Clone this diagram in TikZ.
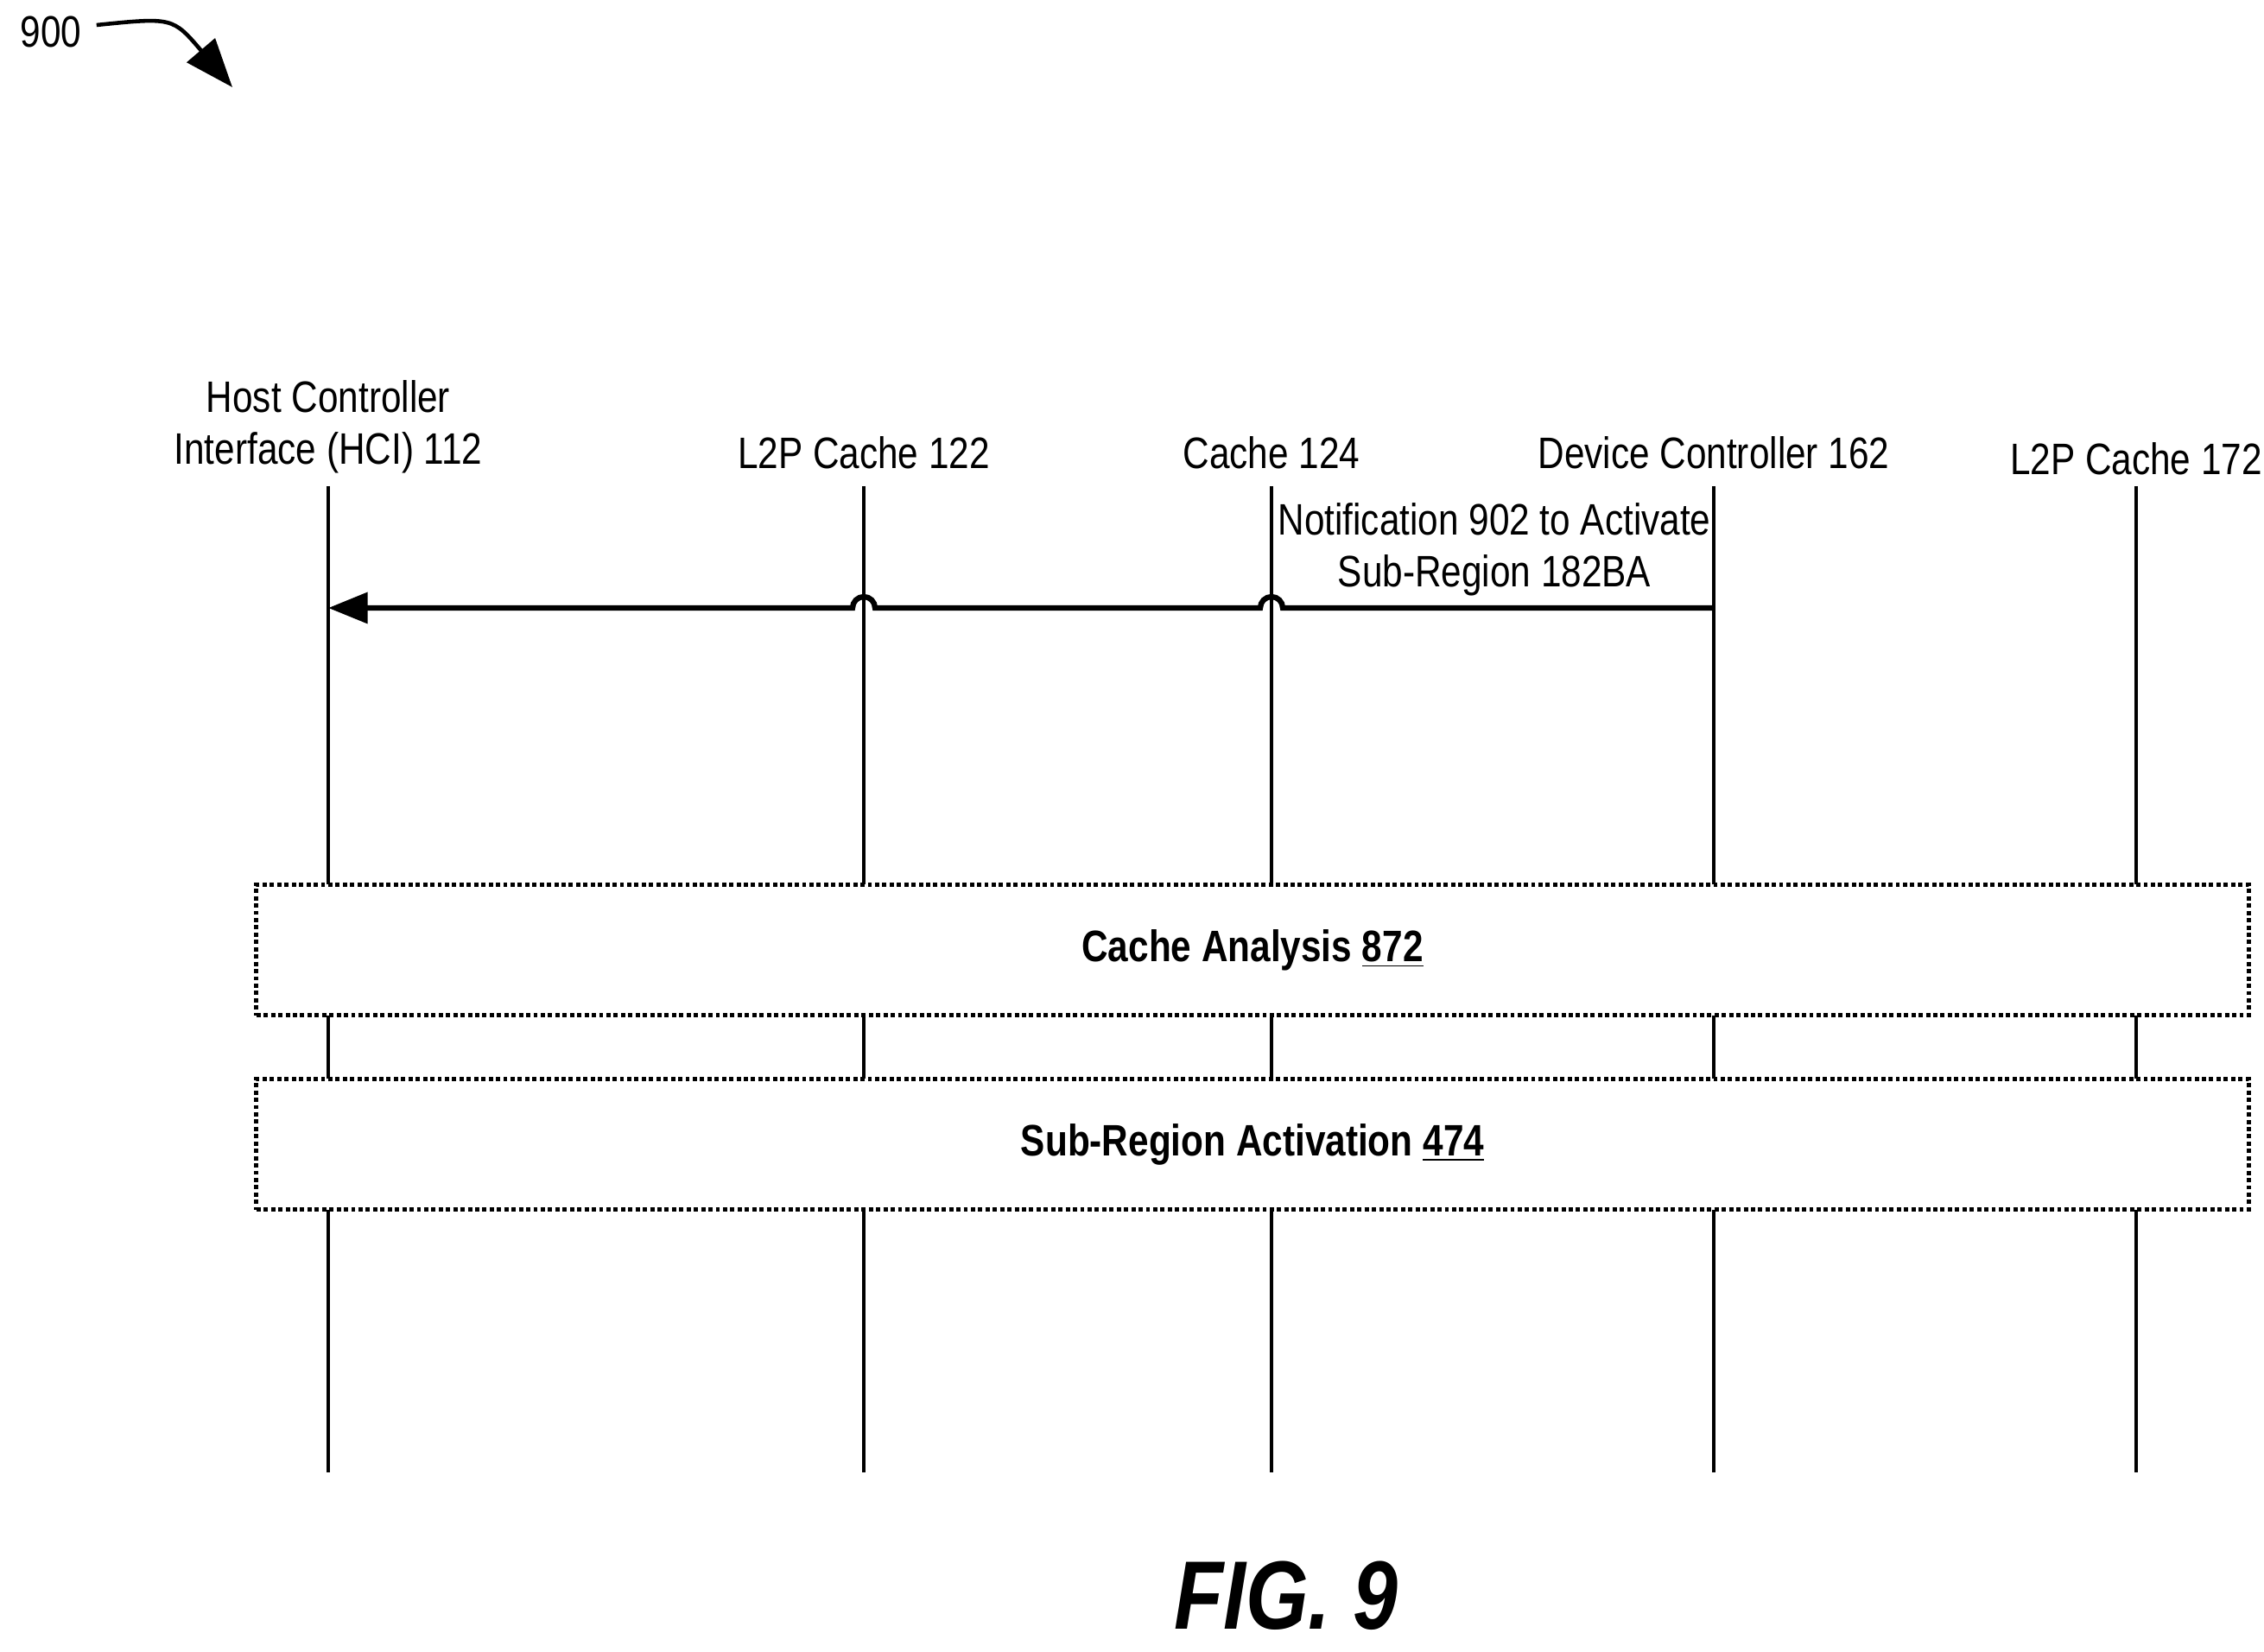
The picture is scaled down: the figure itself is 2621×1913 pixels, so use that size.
\documentclass[tikz,border=0pt]{standalone}
\usepackage{fontspec}
\setmainfont{Liberation Sans}[FakeStretch=0.83]
\usetikzlibrary{arrows.meta}

\begin{document}
\begin{tikzpicture}[x=0.01cm,y=-0.01cm,
  lbl/.style={font=\fontsize{14.5pt}{17pt}\selectfont,align=center,inner sep=0pt},
  phase/.style={draw,line width=1.4pt,densely dotted,minimum width=23.05cm,minimum height=1.51cm,inner sep=0pt,fill=white,font=\fontsize{14.5pt}{17pt}\selectfont\bfseries}]
  \useasboundingbox (0,0) rectangle (2621,1913);

  % lifelines
  \foreach \n/\x in {hci/380, lp/1000, ca/1472, dc/1984, ld/2473} {
    \coordinate (\n top) at (\x,563);
    \coordinate (\n bot) at (\x,1705);
    \draw[line width=1.3pt] (\n top) -- (\n bot);
  }

  \node[lbl] (hcil) at (380,494) {Host Controller\\Interface (HCI) 112};
  \node[lbl] (lpl) at (1000,524) {L2P Cache 122};
  \node[lbl] (cal) at (1472,524) {Cache 124};
  \node[lbl] (dcl) at (1984,524) {Device Controller 162};
  \node[lbl] (ldl) at (2473,531) {L2P Cache 172};

  % notification with hops
  \coordinate (src) at (1984,704);
  \coordinate (dst) at (380,704);
  \draw[line width=1.8pt,-{Triangle[length=13pt,width=10pt]}] (src) -- (1485,704)
    arc[start angle=0,end angle=-180,radius=13] -- (1013,704)
    arc[start angle=0,end angle=-180,radius=13] -- (dst);
  \node[lbl] (note) at (1730,636) {Notification 902 to Activate\\Sub-Region 182BA};

  \node[phase] (ana) at (1450,1100) {Cache Analysis \underline{872}};
  \node[phase] (act) at (1450,1325) {Sub-Region Activation \underline{474}};

  \node[font=\fontsize{14.5pt}{17pt}\selectfont] (num) at (59,37) {900};
  \draw[line width=1.3pt,-{Triangle[length=16pt,width=12pt]}] (num.east) ++(5,-8)
    .. controls (200,20) .. (269,101);

  \node[font=\fontsize{32pt}{38pt}\selectfont\bfseries\itshape] (fig) at (1489,1848) {FIG. 9};
\end{tikzpicture}
\end{document}
